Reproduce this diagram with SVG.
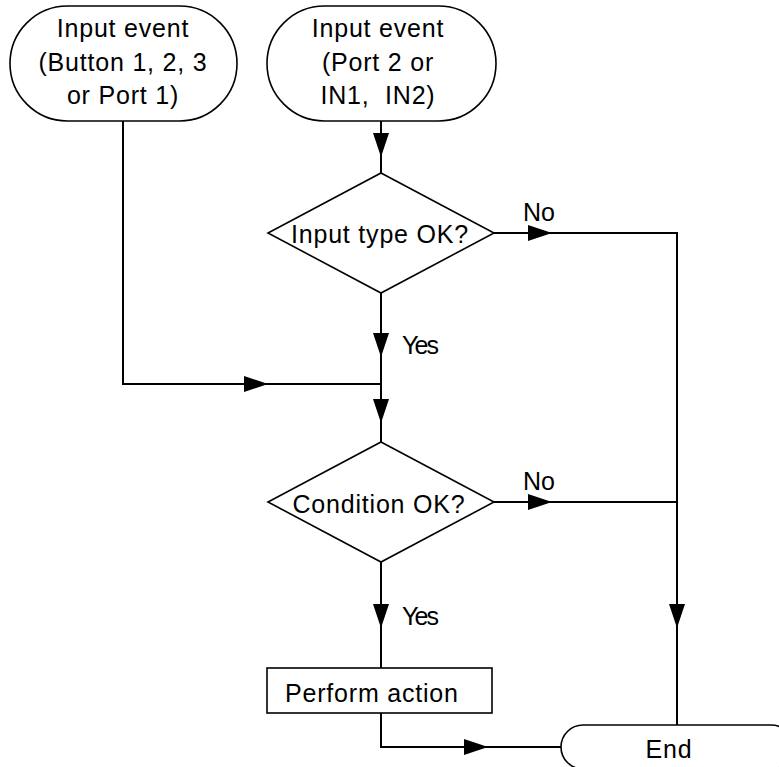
<svg xmlns="http://www.w3.org/2000/svg" xmlns:xlink="http://www.w3.org/1999/xlink" width="779" height="767" viewBox="0 0 779 767">
<style>
.shape{fill:#fff;stroke:#000;stroke-width:1.6}
.conn{fill:none;stroke:#000;stroke-width:2}
text{font-family:"Liberation Sans",Arial,sans-serif;font-size:25px;letter-spacing:0.8px;fill:#000}
.c{text-anchor:middle}
.lbl{letter-spacing:0}
</style>
<defs>
<path id="ah" d="M0,0 L-24,-8 L-24,8 Z" fill="#000"/>
</defs>
<rect width="779" height="767" fill="#fff"/>
<g id="connectors">
<path class="conn" d="M381,121 V173"/>
<path class="conn" d="M494,233 H677 V725"/>
<path class="conn" d="M381,293 V442"/>
<path class="conn" d="M123,121 V384 H381"/>
<path class="conn" d="M494,502 H677"/>
<path class="conn" d="M381,562 V668"/>
<path class="conn" d="M381,713 V747 H561"/>
<use xlink:href="#ah" transform="translate(381,157) rotate(90)"/>
<use xlink:href="#ah" transform="translate(552,233)"/>
<use xlink:href="#ah" transform="translate(677,628) rotate(90)"/>
<use xlink:href="#ah" transform="translate(381,357) rotate(90)"/>
<use xlink:href="#ah" transform="translate(381,423) rotate(90)"/>
<use xlink:href="#ah" transform="translate(268,384)"/>
<use xlink:href="#ah" transform="translate(552,502)"/>
<use xlink:href="#ah" transform="translate(381,628) rotate(90)"/>
<use xlink:href="#ah" transform="translate(488,747)"/>
<text class="lbl" x="523" y="221">No</text>
<text class="lbl" x="523" y="490">No</text>
<text class="lbl" x="402" y="354" textLength="37">Yes</text>
<text class="lbl" x="402" y="625" textLength="37">Yes</text>
</g>
<g id="start1">
<rect class="shape" x="10" y="6" width="227" height="115" rx="57.5" ry="57.5"/>
<text class="c" x="123" y="37">Input event</text>
<text class="c" x="123" y="71">(Button 1, 2, 3</text>
<text class="c" x="123" y="104">or Port 1)</text>
</g>
<g id="start2">
<rect class="shape" x="267" y="6" width="229" height="115" rx="57.5" ry="57.5"/>
<text class="c" x="378" y="37">Input event</text>
<text class="c" x="378" y="71">(Port 2 or</text>
<text class="c" x="378" y="104" xml:space="preserve">IN1,  IN2)</text>
</g>
<g id="decision1">
<polygon class="shape" points="381,173 494,233 381,293 268,233"/>
<text class="c" x="380" y="243">Input type OK?</text>
</g>
<g id="decision2">
<polygon class="shape" points="381,442 494,502 381,562 268,502"/>
<text class="c" x="379" y="513">Condition OK?</text>
</g>
<g id="action">
<rect class="shape" x="267" y="668" width="225" height="45"/>
<text x="285" y="702">Perform action</text>
</g>
<g id="end">
<rect class="shape" x="561" y="725" width="232" height="44" rx="22" ry="22"/>
<text class="c" x="669" y="758">End</text>
</g>
</svg>
